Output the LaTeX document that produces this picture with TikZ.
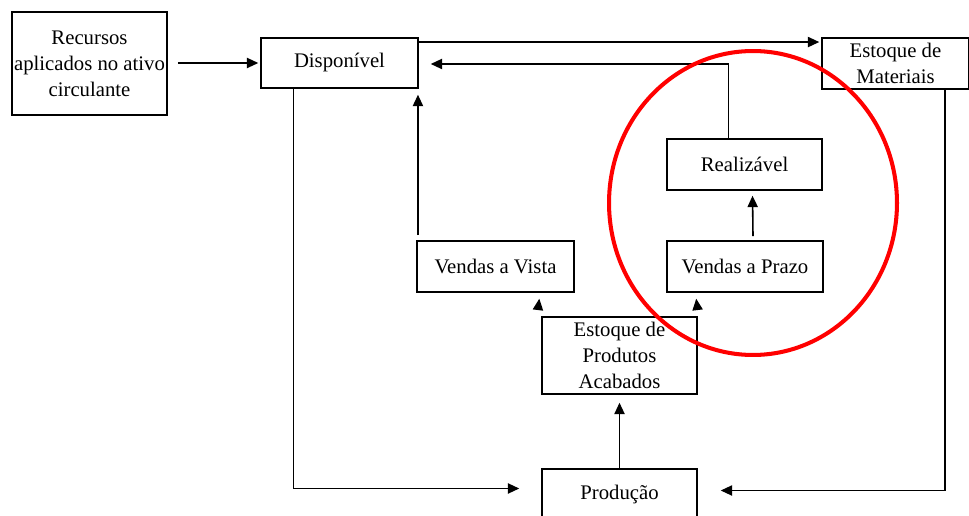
\documentclass[tikz,border=0pt]{standalone}
\usepackage{fontspec}
\setmainfont{Liberation Serif}
\usetikzlibrary{arrows.meta}
\begin{document}
\begin{tikzpicture}[x=0.02cm, y=-0.02cm, shorten >=1pt]
\tikzstyle{box_style} = [rectangle, draw=black, line width=1.1pt, minimum width=3.1cm, minimum height=1cm, inner sep=0pt, align=center, font=\fontsize{11.8}{14.8}\selectfont]
\tikzstyle{edge_style} = [draw=black, line width=0.9pt, -{Triangle[length=6.5pt,width=5.8pt]}]
\tikzstyle{ring_style} = [draw=red, line width=2.3pt]

\useasboundingbox (0,0) rectangle (969,516);

\node[box_style, minimum height=2.06cm] (rec) at (89.5,63.5) {Recursos\\aplicados no ativo\\circulante};
\node[box_style, minimum width=3.14cm] (disp) at (339.5,63) {Disponível};
\node[box_style, minimum width=2.94cm, minimum height=1.02cm] (estmat) at (895.5,63.5) {Estoque de\\Materiais};
\node[box_style, minimum height=1.02cm] (real) at (744.5,164.5) {Realizável};
\node[box_style, minimum width=3.14cm, minimum height=1.02cm] (vvista) at (495.5,266.5) {Vendas a Vista};
\node[box_style, minimum width=3.12cm, minimum height=1.02cm] (vprazo) at (745,266.5) {Vendas a Prazo};
\node[box_style, minimum height=1.54cm] (estpa) at (619.5,355.5) {Estoque de\\Produtos\\Acabados};
\node[box_style, minimum height=1.02cm] (prod) at (619.5,494.5) {Produção};

\draw[edge_style, shorten <=5.7pt] (rec.east |- disp) -- (disp.west);
\draw[edge_style] ([shift={(0,5)}]disp.north east) -- ([shift={(0,5)}]estmat.north west);
\draw[edge_style] ([shift={(-16,0)}]real.north) |- ([shift={(10,1)}]disp.east);
\draw[edge_style] ([shift={(8,-4)}]vprazo.north) -- ([shift={(8,3)}]real.south);
\draw[edge_style] ([shift={(-1,-5)}]vvista.north west -| disp.south east) -- ([shift={(-1,4)}]disp.south east);
\draw[edge_style] ([shift={(-3,-7)}]estpa.north west) -- ([shift={(44,4)}]vvista.south);
\draw[edge_style] ([shift={(-0.5,-7)}]estpa.north east) -- ([shift={(-49,4)}]vprazo.south);
\draw[edge_style] (prod.north) -- ([shift={(0,6)}]estpa.south);
\draw[edge_style] ([shift={(-46,0)}]disp.south) |- ([shift={(-20,-6)}]prod.west);
\draw[edge_style] ([shift={(49.5,0)}]estmat.south) |- ([shift={(21,-4)}]prod.east);

\draw[ring_style] (753,203) ellipse [x radius=2.88cm, y radius=3.04cm];
\end{tikzpicture}
\end{document}
